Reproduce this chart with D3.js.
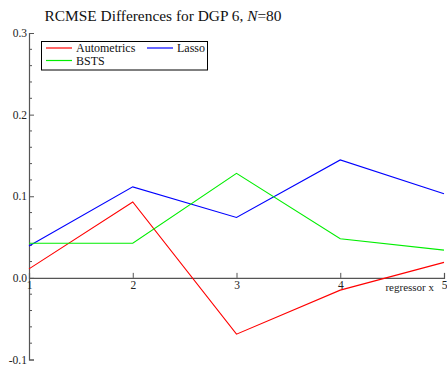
<!DOCTYPE html>
<html>
<head>
<meta charset="utf-8">
<script src="https://cdn.jsdelivr.net/npm/d3@7"></script>
<style>
  body { margin: 0; background: #fff; }
  svg { display: block; }
  svg text { font-family: "Liberation Serif", "DejaVu Serif", serif; }
</style>
</head>
<body>
<svg id="chart" width="447" height="369"></svg>
<script>
// Regressor index on the x axis
const regressors = [1, 2, 3, 4, 5];

// RCMSE differences per method
const autometrics = [0.011, 0.093, -0.069, -0.015, 0.019];
const lasso = [0.039, 0.1115, 0.074, 0.1445, 0.103];
const bsts = [0.0425, 0.0425, 0.128, 0.048, 0.034];

const seriesNames = ["Autometrics", "Lasso", "BSTS"];
const seriesColors = ["#ff0000", "#0000ff", "#00ee00"];

const yTicks = [-0.1, 0.0, 0.1, 0.2, 0.3];
const yTickLabels = ["-0.1", "0.0", "0.1", "0.2", "0.3"];
const xTicks = [1, 2, 3, 4, 5];

const serif = "'Liberation Serif', 'DejaVu Serif', serif";
const svg = d3.select("#chart");

const x = d3.scaleLinear().domain([1, 5]).range([29, 444]);
const y = d3.scaleLinear().domain([-0.1, 0.3]).range([359.5, 33]);

const axisColor = "#555";

// Minor ticks on y axis every 0.02
const minor = d3.range(-0.1, 0.3001, 0.02).filter(v => Math.abs(Math.round(v * 10) - v * 10) > 1e-6);
svg.append("g").selectAll("line").data(minor).join("line")
  .attr("x1", x(1)).attr("x2", x(1) + 3)
  .attr("y1", d => y(d)).attr("y2", d => y(d))
  .attr("stroke", axisColor).attr("stroke-width", 1);

// Y axis
const yAxis = svg.append("g").attr("transform", `translate(${x(1)},0)`)
  .call(d3.axisRight(y).tickValues(yTicks).tickSize(5).tickFormat((d, i) => yTickLabels[i]));
yAxis.attr("font-family", serif);
yAxis.select(".domain").attr("stroke", axisColor).attr("stroke-width", 1.2);
yAxis.selectAll(".tick line").attr("stroke", axisColor);
yAxis.selectAll(".tick text")
  .attr("x", -2).attr("text-anchor", "end").attr("dy", "0.32em")
  .attr("font-size", 11.5).attr("fill", "#222")
  .attr("font-family", serif);

// X axis through zero
const xAxis = svg.append("g").attr("transform", `translate(0,${y(0)})`)
  .call(d3.axisTop(x).tickValues(xTicks).tickSize(5).tickFormat(d3.format("d")));
xAxis.attr("font-family", serif);
xAxis.select(".domain").attr("stroke", axisColor).attr("stroke-width", 1.2);
xAxis.selectAll(".tick line").attr("stroke", axisColor);
xAxis.selectAll(".tick text")
  .attr("y", 3).attr("dy", "0.71em").attr("text-anchor", "middle")
  .attr("font-size", 11.5).attr("fill", "#222")
  .attr("font-family", serif);

svg.append("text")
  .attr("x", 434).attr("y", y(0) + 13)
  .attr("text-anchor", "end").attr("font-size", 11).attr("fill", "#222")
  .attr("font-family", serif)
  .text("regressor x");

// Series lines
const line = d3.line().x((d, i) => x(regressors[i])).y(d => y(d));
const allSeries = [autometrics, lasso, bsts];
svg.append("g").selectAll("path").data(allSeries).join("path")
  .attr("d", d => line(d))
  .attr("fill", "none")
  .attr("stroke", (d, i) => seriesColors[i])
  .attr("stroke-width", 1.1);

// Title
const title = svg.append("text")
  .attr("x", 163).attr("y", 20.5)
  .attr("text-anchor", "middle").attr("font-size", 15.4).attr("fill", "#111")
  .attr("font-family", serif);
title.append("tspan").text("RCMSE Differences for DGP 6, ");
title.append("tspan").attr("font-style", "italic").text("N");
title.append("tspan").text("=80");

// Legend
const legend = svg.append("g");
legend.append("rect")
  .attr("x", 41.5).attr("y", 41.5).attr("width", 166).attr("height", 28.5)
  .attr("fill", "#fff").attr("stroke", "#000").attr("stroke-width", 1);
const legendPos = [[46, 48], [147, 48], [46, 60.5]];
seriesNames.forEach((name, i) => {
  const [lx, ly] = legendPos[i];
  legend.append("line")
    .attr("x1", lx).attr("x2", lx + 26).attr("y1", ly).attr("y2", ly)
    .attr("stroke", seriesColors[i]).attr("stroke-width", 1.2);
  legend.append("text")
    .attr("x", lx + 30).attr("y", ly + 4.3)
    .attr("font-size", 12).attr("fill", "#111")
    .attr("font-family", serif)
    .text(name);
});
</script>
</body>
</html>
